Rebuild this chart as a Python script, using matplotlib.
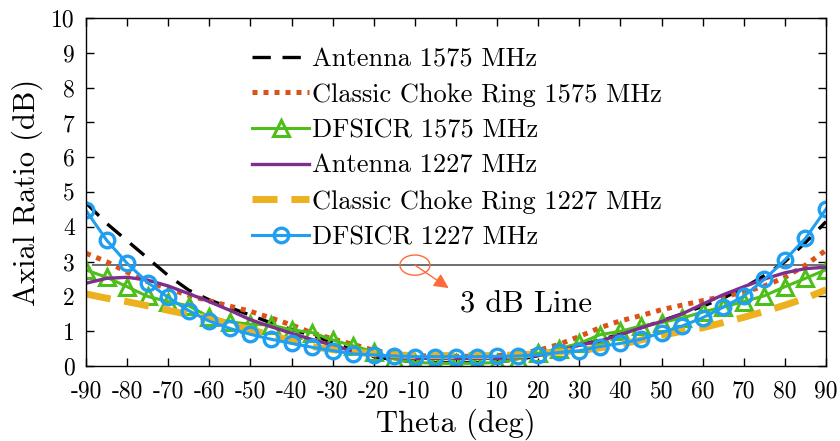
import numpy as np
import matplotlib
matplotlib.use('Agg')
import matplotlib.pyplot as plt
from matplotlib.patches import Ellipse

plt.rcParams['font.family'] = ['cmr10', 'DejaVu Serif']
plt.rcParams['axes.unicode_minus'] = False
plt.rcParams['mathtext.fontset'] = 'cm'

# data
theta = list(range(-90, 91, 5))

ant_1575 = [4.69, 4.10, 3.60, 3.10, 2.60, 2.18, 1.90, 1.68, 1.46, 1.24, 1.05, 0.88, 0.68,
            0.45, 0.27, 0.18, 0.12, 0.10, 0.10, 0.10, 0.12, 0.18, 0.30, 0.45, 0.60, 0.75,
            0.92, 1.10, 1.30, 1.50, 1.72, 1.95, 2.25, 2.60, 3.00, 3.55, 4.15]
ccr_1575 = [3.24, 3.00, 2.70, 2.42, 2.22, 2.03, 1.87, 1.72, 1.57, 1.38, 1.18, 0.95, 0.78,
            0.62, 0.45, 0.35, 0.30, 0.28, 0.28, 0.28, 0.30, 0.35, 0.45, 0.62, 0.85, 1.10,
            1.30, 1.45, 1.62, 1.75, 1.88, 2.00, 2.12, 2.30, 2.55, 2.90, 3.33]
dfs_1575 = [2.76, 2.55, 2.28, 2.00, 1.85, 1.73, 1.41, 1.27, 1.20, 1.18, 1.04, 0.96, 0.75,
            0.58, 0.41, 0.20, 0.10, 0.08, 0.08, 0.08, 0.10, 0.20, 0.37, 0.50, 0.65, 0.90,
            1.00, 1.15, 1.25, 1.38, 1.55, 1.70, 1.85, 2.02, 2.28, 2.52, 2.77]
ant_1227 = [2.38, 2.52, 2.55, 2.47, 2.30, 2.08, 1.85, 1.60, 1.33, 1.13, 0.94, 0.76, 0.60,
            0.42, 0.30, 0.25, 0.22, 0.22, 0.22, 0.22, 0.22, 0.25, 0.30, 0.42, 0.60, 0.72,
            0.90, 1.10, 1.28, 1.50, 1.78, 2.05, 2.28, 2.50, 2.68, 2.80, 2.84]
ccr_1227 = [2.07, 1.95, 1.85, 1.73, 1.60, 1.48, 1.38, 1.20, 1.05, 0.88, 0.72, 0.56, 0.47,
            0.40, 0.35, 0.32, 0.30, 0.30, 0.30, 0.30, 0.30, 0.32, 0.35, 0.40, 0.45, 0.52,
            0.62, 0.75, 0.88, 1.00, 1.10, 1.25, 1.40, 1.57, 1.75, 1.95, 2.19]
dfs_1227 = [4.47, 3.62, 2.95, 2.40, 1.97, 1.59, 1.29, 1.08, 0.91, 0.77, 0.65, 0.54, 0.44,
            0.35, 0.32, 0.29, 0.27, 0.27, 0.27, 0.27, 0.28, 0.29, 0.32, 0.39, 0.44, 0.56,
            0.65, 0.77, 0.96, 1.15, 1.39, 1.69, 2.01, 2.49, 3.05, 3.67, 4.51]

xticks = list(range(-90, 91, 10))
xticklabels = [str(t) for t in xticks]
yticks = list(range(0, 11))
line_3db = 2.9

fig = plt.figure(figsize=(8.4, 4.41), dpi=100)
ax = fig.add_axes([0.1024, 0.170, 0.881, 0.789])

ax.plot(theta, ant_1575, color='k', lw=2.4, dashes=(5.5, 3.5), label='Antenna 1575 MHz')
ax.plot(theta, ccr_1575, color='#D95319', lw=3.6, dashes=(1, 1.2), label='Classic Choke Ring 1575 MHz')
ax.plot(theta, dfs_1575, color='#4DBE1A', lw=2.2, marker='^', ms=11, mfc='none', mew=2.2,
        label='DFSICR 1575 MHz')
ax.plot(theta, ant_1227, color='#7E2F8E', lw=2.4, label='Antenna 1227 MHz')
ax.plot(theta, ccr_1227, color='#EDB120', lw=5.0, dashes=(3.6, 2.0), label='Classic Choke Ring 1227 MHz')
ax.plot(theta, dfs_1227, color='#1E9FF2', lw=2.2, marker='o', ms=10.5, mfc='none', mew=2.4,
        label='DFSICR 1227 MHz')

# 3 dB reference line
ax.hlines(line_3db, -88.5, 90, color='#555555', lw=1.2, zorder=1)
ax.add_patch(Ellipse((-10, line_3db), 7.3, 0.58, fill=False, ec='#FF6A3D', lw=1.0))
ax.annotate('', xy=(-1.8, 2.24), xytext=(-10, line_3db),
            arrowprops=dict(arrowstyle='-|>', color='#FF6A3D', lw=1.0,
                            mutation_scale=22, shrinkA=0, shrinkB=0))
ax.text(1.0, 1.75, '3 dB Line', fontsize=22, ha='left', va='center')

ax.set_xlim(-90, 90)
ax.set_ylim(0, 10)
ax.set_xticks(xticks)
ax.set_xticklabels(xticklabels)
ax.set_yticks(yticks)
ax.tick_params(direction='in', top=True, right=True, labelsize=17, length=6, width=1)
ax.tick_params(axis='x', pad=10)
ax.tick_params(axis='y', pad=8)
for s in ax.spines.values():
    s.set_linewidth(1.0)

ax.set_xlabel('Theta (deg)', fontsize=22, labelpad=5)
ax.set_ylabel('Axial Ratio (dB)', fontsize=22, labelpad=6)

ax.legend(loc='upper left', bbox_to_anchor=(0.2, 0.969), frameon=False, fontsize=19,
          handlelength=2.15, handletextpad=0.1, labelspacing=0.45, borderpad=0.2)

fig.savefig('out.png', dpi=100)
